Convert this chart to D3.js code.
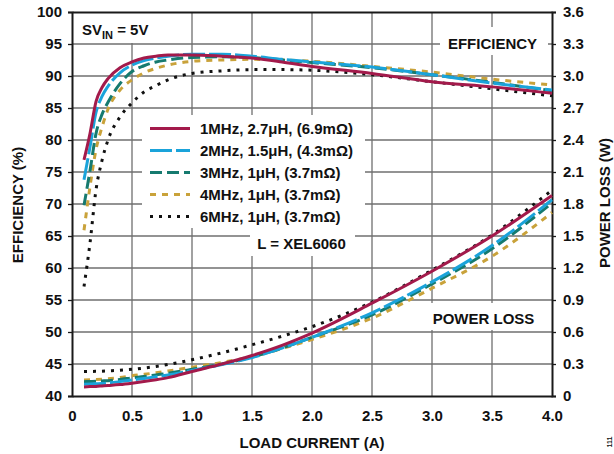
<!DOCTYPE html>
<html>
<head>
<meta charset="utf-8">
<script src="https://cdn.jsdelivr.net/npm/d3@7"></script>
<style>
  html, body { margin: 0; padding: 0; background: #fff; }
  svg { display: block; }
  text { font-family: "Liberation Sans", Arial, sans-serif; font-weight: bold; fill: #111; }
</style>
</head>
<body>
<svg id="chart" width="614" height="454"></svg>
<script>
// ---- data ----
const current = [0.1, 0.15, 0.2, 0.25, 0.3, 0.4, 0.5, 0.6, 0.7, 0.8, 1.0, 1.25, 1.5, 1.75, 2.0, 2.5, 3.0, 3.5, 4.0];

const seriesNames = [
  "1MHz, 2.7μH, (6.9mΩ)",
  "2MHz, 1.5μH, (4.3mΩ)",
  "3MHz, 1μH, (3.7mΩ)",
  "4MHz, 1μH, (3.7mΩ)",
  "6MHz, 1μH, (3.7mΩ)"
];

const eff1MHz = [76.9, 81.0, 86.0, 88.2, 89.6, 91.3, 92.2, 92.8, 93.1, 93.3, 93.3, 93.1, 92.8, 92.2, 91.5, 90.4, 89.1, 88.3, 87.3];
const eff2MHz = [73.8, 78.9, 84.3, 86.8, 88.4, 90.5, 91.7, 92.4, 92.8, 93.1, 93.4, 93.4, 93.1, 92.6, 92.2, 91.4, 90.2, 88.9, 87.8];
const eff3MHz = [69.8, 75.2, 81.0, 84.0, 85.9, 88.8, 90.7, 91.6, 92.2, 92.5, 92.9, 93.0, 92.9, 92.5, 92.1, 91.3, 90.2, 89.0, 87.7];
const eff4MHz = [65.9, 72.7, 78.5, 82.0, 84.8, 87.8, 89.4, 90.5, 91.2, 91.7, 92.3, 92.5, 92.6, 92.5, 92.3, 91.5, 90.6, 89.5, 88.6];
const eff6MHz = [57.1, 63.9, 72.2, 76.8, 80.0, 83.6, 85.8, 87.5, 88.5, 89.4, 90.4, 90.8, 91.0, 91.0, 90.9, 90.2, 89.1, 88.0, 86.9];

const loss1MHz = [0.085, 0.088, 0.090, 0.094, 0.098, 0.107, 0.120, 0.135, 0.152, 0.172, 0.230, 0.300, 0.380, 0.475, 0.590, 0.870, 1.170, 1.500, 1.880];
const loss2MHz = [0.110, 0.112, 0.115, 0.118, 0.122, 0.135, 0.150, 0.165, 0.180, 0.197, 0.240, 0.295, 0.360, 0.450, 0.550, 0.780, 1.070, 1.410, 1.840];
const loss3MHz = [0.134, 0.136, 0.138, 0.141, 0.144, 0.155, 0.170, 0.183, 0.198, 0.213, 0.250, 0.300, 0.365, 0.450, 0.550, 0.760, 1.050, 1.380, 1.810];
const loss4MHz = [0.150, 0.152, 0.155, 0.158, 0.161, 0.173, 0.190, 0.203, 0.218, 0.235, 0.270, 0.315, 0.370, 0.445, 0.530, 0.730, 1.010, 1.310, 1.720];
const loss6MHz = [0.230, 0.230, 0.231, 0.233, 0.236, 0.242, 0.250, 0.262, 0.277, 0.295, 0.340, 0.405, 0.480, 0.560, 0.650, 0.880, 1.180, 1.510, 1.930];

const xTicks = [0, 0.5, 1.0, 1.5, 2.0, 2.5, 3.0, 3.5, 4.0];
const xTickLabels = ["0", "0.5", "1.0", "1.5", "2.0", "2.5", "3.0", "3.5", "4.0"];
const effTicks = [40, 45, 50, 55, 60, 65, 70, 75, 80, 85, 90, 95, 100];
const lossTicks = [0, 0.3, 0.6, 0.9, 1.2, 1.5, 1.8, 2.1, 2.4, 2.7, 3.0, 3.3, 3.6];

// ---- styles ----
const colors = ["#a31a4b", "#1aa3da", "#167a6f", "#c9a23a", "#111111"];
const dashes = [null, "22,4", "12,5", "6,6", "3,6"];

const effData = [eff1MHz, eff2MHz, eff3MHz, eff4MHz, eff6MHz];
const lossData = [loss1MHz, loss2MHz, loss3MHz, loss4MHz, loss6MHz];

// ---- layout ----
const svg = d3.select("#chart");
const x = d3.scaleLinear().domain([0, 4]).range([72, 552]);
const yE = d3.scaleLinear().domain([40, 100]).range([396, 12]);
const yP = d3.scaleLinear().domain([0, 3.6]).range([396, 12]);

const grid = svg.append("g");
xTicks.slice(1, -1).forEach(t => {
  grid.append("line").attr("x1", x(t)).attr("x2", x(t)).attr("y1", yE(100)).attr("y2", yE(40))
    .attr("stroke", "#6f6f6f").attr("stroke-width", 1.3);
});
effTicks.slice(1, -1).forEach(t => {
  grid.append("line").attr("x1", x(0)).attr("x2", x(4)).attr("y1", yE(t)).attr("y2", yE(t))
    .attr("stroke", "#6f6f6f").attr("stroke-width", 1.3);
});

// white label boxes that interrupt the grid
const boxes = [
  [x(0), yE(100), 100, 31],   // SVIN
  [440, 27, 108, 28],         // EFFICIENCY
  [142, 115, 223, 113],       // legend
  [250, 228, 105, 28],        // L = XEL6060
  [420, 303, 128, 27]         // POWER LOSS
];
boxes.forEach(b => svg.append("rect").attr("x", b[0]).attr("y", b[1]).attr("width", b[2]).attr("height", b[3]).attr("fill", "#fff"));

// axes (frame + ticks)
const axL = d3.axisLeft(yE).tickValues(effTicks).tickSize(4).tickFormat(d => d);
const gL = svg.append("g").attr("transform", `translate(${x(0)},0)`).call(axL);
const axR = d3.axisRight(yP).tickValues(lossTicks).tickSize(4).tickFormat(d => d === 0 ? "0" : d3.format(".1f")(d));
const gR = svg.append("g").attr("transform", `translate(${x(4)},0)`).call(axR);
const axB = d3.axisBottom(x).tickValues(xTicks).tickSize(0).tickFormat((d, i) => xTickLabels[i]);
const gB = svg.append("g").attr("transform", `translate(0,${yE(40)})`).call(axB);
const axT = d3.axisTop(x).tickValues([]).tickSize(0);
const gT = svg.append("g").attr("transform", `translate(0,${yE(100)})`).call(axT);

[gL, gR, gB, gT].forEach(g => {
  g.select(".domain").attr("stroke", "#1a1a1a").attr("stroke-width", 2);
  g.selectAll(".tick line").attr("stroke", "#1a1a1a").attr("stroke-width", 1.3);
  g.selectAll(".tick text").attr("font-family", "'Liberation Sans', Arial, sans-serif")
    .attr("font-weight", "bold").attr("font-size", 15).attr("fill", "#111");
});
gL.selectAll(".tick text").attr("x", -10);
gR.selectAll(".tick text").attr("x", 11);
gB.selectAll(".tick text").attr("y", 14);

// curves
const line = (ys, yScale) => d3.line()
  .x((d, i) => x(current[i]))
  .y(d => yScale(d))
  .curve(d3.curveMonotoneX)(ys);

const curves = svg.append("g");
for (let k = 4; k >= 0; k--) {
  [[effData[k], yE], [lossData[k], yP]].forEach(([ys, sc]) => {
    curves.append("path").attr("d", line(ys, sc))
      .attr("fill", "none").attr("stroke", colors[k]).attr("stroke-width", 3)
      .attr("stroke-dasharray", dashes[k]).attr("stroke-linecap", "butt");
  });
}

// legend
const leg = svg.append("g");
seriesNames.forEach((name, i) => {
  const cy = 128.5 + i * 22;
  leg.append("line").attr("x1", 150).attr("x2", 190).attr("y1", cy).attr("y2", cy)
    .attr("stroke", colors[i]).attr("stroke-width", 3).attr("stroke-dasharray", dashes[i]);
  leg.append("text").attr("x", 200).attr("y", cy + 5.5).attr("font-size", 15).text(name);
});
svg.append("text").attr("x", 301.5).attr("y", 248.5).attr("text-anchor", "middle").attr("font-size", 15).text("L = XEL6060");

// annotations
const sv = svg.append("text").attr("x", 82).attr("y", 34.5).attr("font-size", 15);
sv.append("tspan").text("SV");
sv.append("tspan").attr("font-size", 11).attr("dy", 4).text("IN");
sv.append("tspan").attr("dy", -4).text(" = 5V");

svg.append("text").attr("x", 492.5).attr("y", 48.5).attr("text-anchor", "middle").attr("font-size", 15).text("EFFICIENCY");
svg.append("text").attr("x", 483.5).attr("y", 323.5).attr("text-anchor", "middle").attr("font-size", 15).text("POWER LOSS");

// axis titles
svg.append("text").attr("transform", "translate(23,205) rotate(-90)").attr("text-anchor", "middle").attr("font-size", 15).text("EFFICIENCY (%)");
svg.append("text").attr("transform", "translate(610,203) rotate(-90)").attr("text-anchor", "middle").attr("font-size", 15).text("POWER LOSS (W)");
svg.append("text").attr("x", 312).attr("y", 448).attr("text-anchor", "middle").attr("font-size", 15).text("LOAD CURRENT (A)");

// figure number
svg.append("text").attr("transform", "translate(612,442) rotate(-90)").attr("text-anchor", "middle")
  .attr("font-size", 7).attr("font-weight", "normal").attr("fill", "#555").text("111");
</script>
</body>
</html>
